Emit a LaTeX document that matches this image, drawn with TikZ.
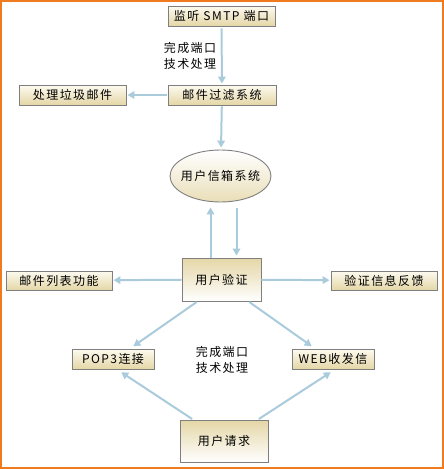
\documentclass[tikz,border=0pt]{standalone}
\usepackage{fontspec}
\setmainfont{Noto Sans CJK SC}[LetterSpace=12]
\usetikzlibrary{arrows.meta,shapes.geometric}
\definecolor{frameorange}{HTML}{F07A1E}
\definecolor{flowblue}{HTML}{A9CBDC}
\definecolor{boxtan}{HTML}{E4D6A6}
\definecolor{boxlight}{HTML}{FDFBF0}
\definecolor{boxgray}{HTML}{7F7F7F}

\begin{document}
\begin{tikzpicture}[x=1pt,y=-1pt,
    font=\fontsize{12}{16}\selectfont,
    stepbox/.style={draw=boxgray,line width=0.9pt,top color=boxlight,bottom color=boxtan,
        minimum width=#1,minimum height=20pt,inner sep=0pt},
    bigbox/.style={draw=boxgray,line width=0.9pt,top color=boxtan,bottom color=white,
        minimum width=#1,minimum height=43pt,inner sep=0pt},
    flow/.style={draw=flowblue,line width=2pt,-{Triangle[length=7pt,width=7.5pt]}},
    note/.style={align=center,inner sep=0pt}]
    \useasboundingbox (0,0) rectangle (444,469);
    \draw[frameorange,line width=2pt] (1,1) rectangle (443,468);

    % upper part
    \node[stepbox=107pt] (smtp) at (221.5,16) {监听 SMTP 端口};
    \node[stepbox=108pt] (filter) at (222,95) {邮件过滤系统};
    \node[stepbox=107pt] (spam) at (72.5,95) {处理垃圾邮件};
    \node[note] (port1) at (190,56) {完成端口\\技术处理};
    \node[ellipse,draw=boxgray,line width=0.9pt,top color=white,bottom color=boxtan!80,
        minimum width=101pt,minimum height=52pt,inner xsep=-7pt,inner ysep=0pt] (mailbox) at (220.5,176) {用户信箱系统};

    % middle part
    \node[bigbox=79pt] (auth) at (221.5,279.5) {用户验证};
    \node[stepbox=106pt,minimum height=19pt] (list) at (59,280.5) {邮件列表功能};
    \node[stepbox=106pt,minimum height=19pt] (feedback) at (384,280.5) {验证信息反馈};

    % lower part
    \node[stepbox=82pt] (pop) at (113,359) {POP3连接};
    \node[stepbox=82pt] (web) at (333,359) {WEB收发信};
    \node[note] (port2) at (222,360) {完成端口\\技术处理};
    \node[bigbox=88pt,minimum height=42pt] (req) at (224,441) {用户请求};

    % connectors
    \draw[flow,shorten <=2pt,shorten >=1pt] (smtp) -- (filter);
    \draw[flow,shorten <=1pt,shorten >=1pt] (filter) -- (spam);
    \draw[flow,shorten <=1pt,shorten >=2pt] (filter) -- (mailbox);
    \draw[flow,shorten >=5pt] ([xshift=-11pt]auth.north) -- ([xshift=-11pt]auth.north |- mailbox.south);
    \draw[flow,shorten <=6pt,shorten >=2pt] ([xshift=15pt]auth.north |- mailbox.south) -- ([xshift=15pt]auth.north);
    \draw[flow,shorten >=1pt] (auth) -- (list);
    \draw[flow,shorten >=1pt] (auth) -- (feedback);
    \draw[flow,shorten <=1pt,shorten >=4pt] ([xshift=-24pt]auth.south) -- ([xshift=17pt]pop.north);
    \draw[flow,shorten <=1pt,shorten >=4pt] ([xshift=27pt]auth.south) -- ([xshift=-18pt]web.north);
    \draw[flow,shorten <=1pt,shorten >=5pt] ([xshift=-31pt]req.north) -- ([xshift=4pt]pop.south);
    \draw[flow,shorten <=1pt,shorten >=5pt] ([xshift=34pt]req.north) -- ([xshift=2pt]web.south);
\end{tikzpicture}
\end{document}
